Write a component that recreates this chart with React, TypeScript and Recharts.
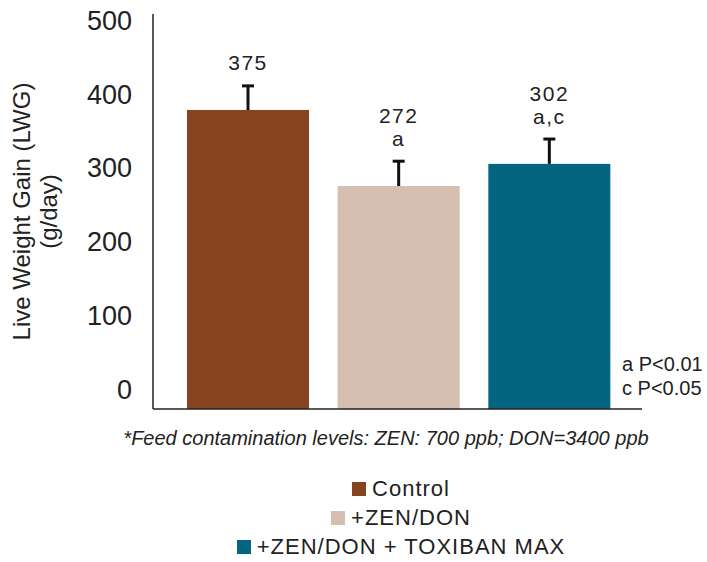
import React from 'react';
import { BarChart, Bar, XAxis, YAxis, Cell, LabelList, Legend, Label } from 'recharts';

const categories = ['Control', '+ZEN/DON', '+ZEN/DON + TOXIBAN MAX'];
const lwgValues = [375, 272, 302];
const errorValues = [34, 35, 35];
const significance = ['', 'a', 'a,c'];
const barColors = ['#864420', '#D6BEB0', '#036580'];
const yTicks = [0, 100, 200, 300, 400, 500];
const yLabelLines = ['Live Weight Gain (LWG)', '(g/day)'];
const footnote = '*Feed contamination levels: ZEN: 700 ppb; DON=3400 ppb';
const pNotes = ['a P<0.01', 'c P<0.05'];

const data = categories.map((name, i) => ({
  name,
  lwg: lwgValues[i],
  err: errorValues[i],
}));

const FONT = '"Liberation Sans", Arial, Helvetica, sans-serif';
const TEXT = '#222';

const BarShape = (props: any) => {
  const { x, y, width, height, fill, background } = props;
  const bottom = background ? background.y + background.height : y + height;
  return <rect x={x} y={y} width={width} height={Math.max(0, bottom - y)} fill={fill} />;
};

const ErrorShape = (props: any) => {
  const { x, y, width, height } = props;
  const cx = x + width / 2;
  return (
    <g>
      <line x1={cx} x2={cx} y1={y + height} y2={y} stroke="#111" strokeWidth={3} />
      <line x1={cx - 6} x2={cx + 6} y1={y + 1} y2={y + 1} stroke="#111" strokeWidth={3} />
    </g>
  );
};

const renderValueLabel = (props: any) => {
  const { x, y, width, index } = props;
  const lines = [String(lwgValues[index]), significance[index]].filter(Boolean);
  const cx = x + width / 2;
  return (
    <g>
      {lines.map((t, k) => (
        <text
          key={k}
          x={cx}
          y={y - 22 - (lines.length - 1 - k) * 23}
          textAnchor="middle"
          dominantBaseline="central"
          fontFamily={FONT}
          fontSize={21}
          letterSpacing={1.5}
          fill={TEXT}
        >
          {t}
        </text>
      ))}
    </g>
  );
};

const YTick = (props: any) => {
  const { x, y, payload } = props;
  return (
    <text x={x} y={y + 3} textAnchor="end" dominantBaseline="central" fontFamily={FONT} fontSize={27} fill={TEXT}>
      {payload.value}
    </text>
  );
};

const renderYLabel = (props: any) => {
  const vb = props.viewBox || { x: 0, y: 14, width: 153, height: 395 };
  const cy = vb.y + vb.height / 2;
  const xs = [21, 48];
  return (
    <g>
      {yLabelLines.map((t, k) => (
        <text
          key={k}
          x={xs[k]}
          y={cy}
          transform={`rotate(-90 ${xs[k]} ${cy})`}
          textAnchor="middle"
          dominantBaseline="central"
          fontFamily={FONT}
          fontSize={24}
          fill={TEXT}
        >
          {t}
        </text>
      ))}
    </g>
  );
};

const renderLegend = () => (
  <div style={{ fontFamily: FONT, fontSize: 22, letterSpacing: 1, color: TEXT }}>
    {categories.map((c, i) => (
      <div key={c} style={{ display: 'flex', justifyContent: 'center', alignItems: 'center', height: 29 }}>
        <span style={{ display: 'inline-block', width: 14, height: 14, background: barColors[i], marginRight: 6 }} />
        <span>{c}</span>
      </div>
    ))}
  </div>
);

export default function App() {
  return (
    <div style={{ position: 'absolute', left: 0, top: 0, width: 707, height: 562, background: '#fff' }}>
      <BarChart width={707} height={562} data={data} margin={{ top: 14, right: 65, left: 0, bottom: 123 }} barSize={122}>
        <XAxis
          dataKey="name"
          tick={false}
          tickLine={false}
          axisLine={{ stroke: '#222', strokeWidth: 1.5 }}
          padding={{ left: 20, right: 17 }}
          height={30}
        />
        <YAxis
          width={153}
          domain={[-30, 505]}
          ticks={yTicks}
          allowDataOverflow
          tickLine={false}
          tickMargin={15}
          tick={<YTick />}
          axisLine={{ stroke: '#222', strokeWidth: 1.5 }}
        >
          <Label content={renderYLabel} />
        </YAxis>
        <Legend
          layout="vertical"
          align="center"
          verticalAlign="middle"
          content={renderLegend}
          wrapperStyle={{ top: 474, left: 95, width: 612 }}
        />
        <Bar dataKey="lwg" stackId="s" shape={<BarShape />} isAnimationActive={false}>
          {data.map((d, i) => (
            <Cell key={d.name} fill={barColors[i]} />
          ))}
        </Bar>
        <Bar dataKey="err" stackId="s" shape={<ErrorShape />} fill="transparent" legendType="none" isAnimationActive={false}>
          <LabelList dataKey="err" content={renderValueLabel} />
        </Bar>
      </BarChart>
      <div
        style={{
          position: 'absolute',
          left: 0,
          width: 772,
          top: 426,
          textAlign: 'center',
          fontFamily: FONT,
          fontStyle: 'italic',
          fontSize: 20,
          lineHeight: '24px',
          color: TEXT,
          whiteSpace: 'nowrap',
        }}
      >
        {footnote}
      </div>
      <div
        style={{
          position: 'absolute',
          left: 622,
          top: 352,
          fontFamily: FONT,
          fontSize: 20,
          lineHeight: '24px',
          color: TEXT,
          whiteSpace: 'nowrap',
        }}
      >
        {pNotes.map((p) => (
          <div key={p}>{p}</div>
        ))}
      </div>
    </div>
  );
}
